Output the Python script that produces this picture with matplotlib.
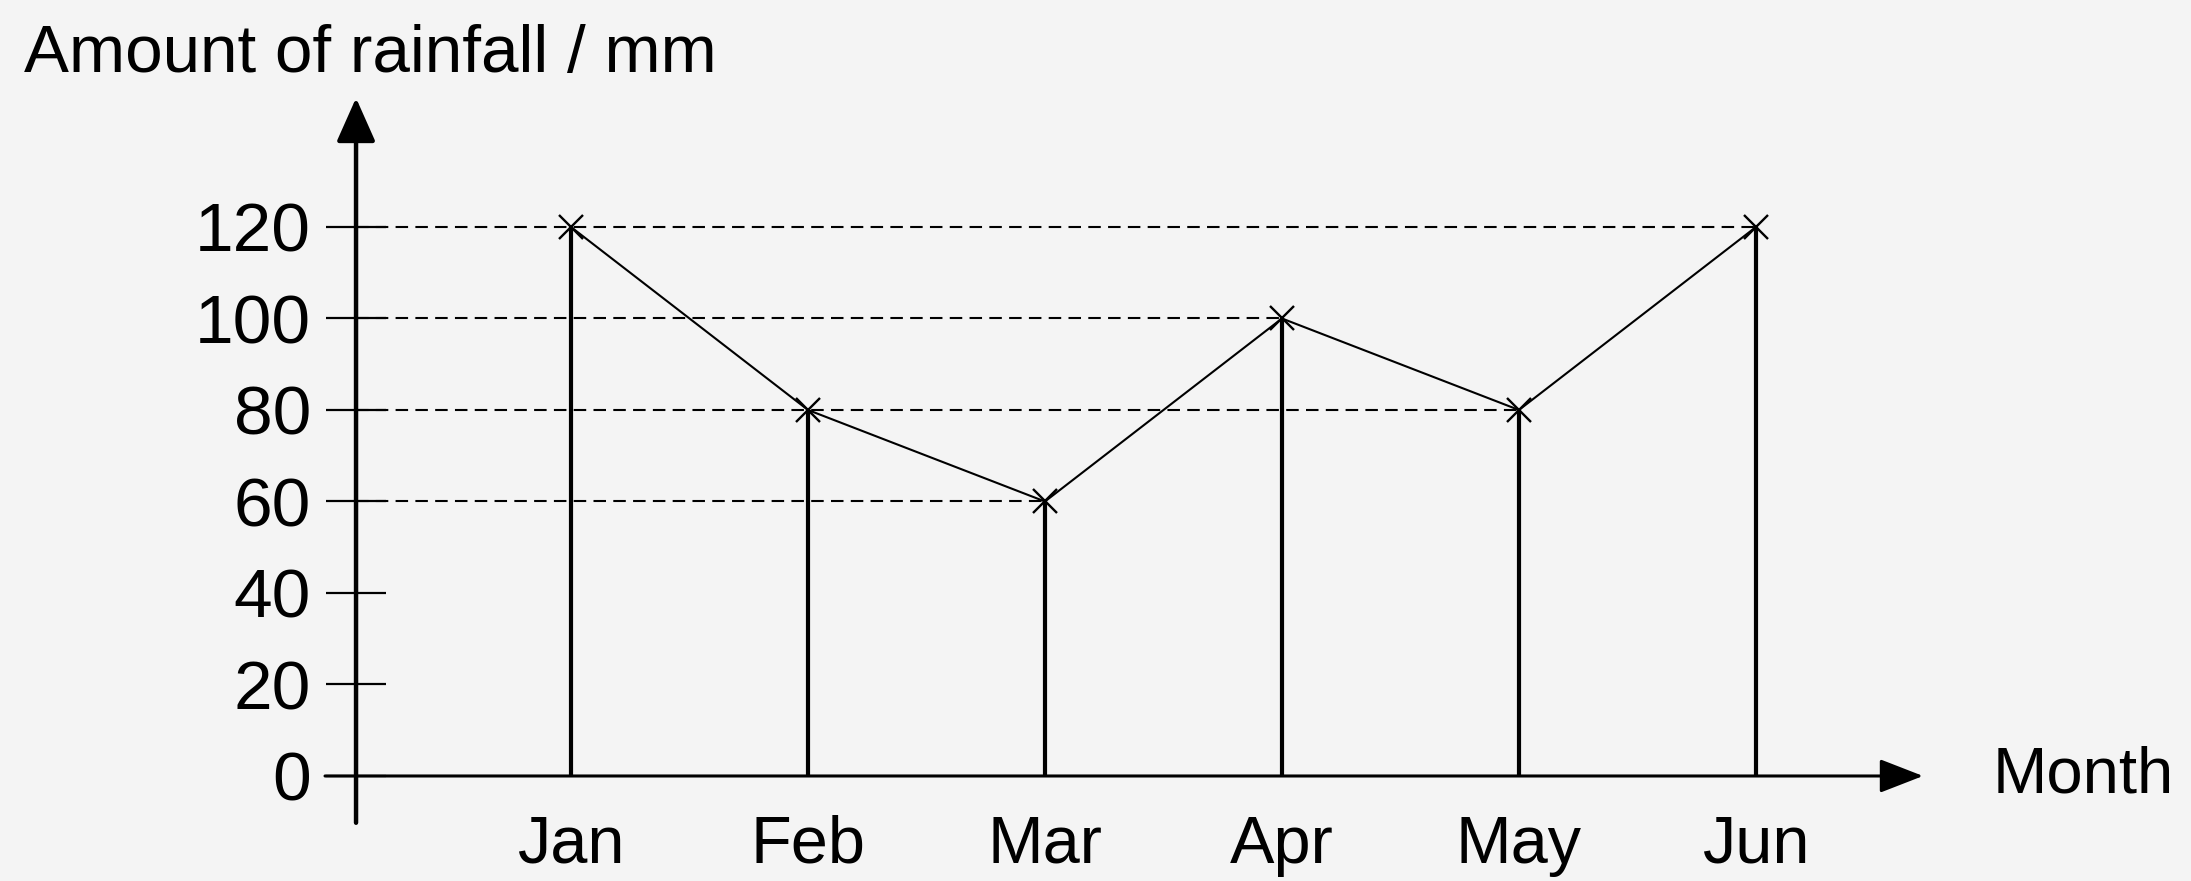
import matplotlib.pyplot as plt

# data
months = ['Jan', 'Feb', 'Mar', 'Apr', 'May', 'Jun']
rainfall = [120, 80, 60, 100, 80, 120]
y_ticks = [0, 20, 40, 60, 80, 100, 120]

plt.rcParams['font.family'] = ['Liberation Sans', 'DejaVu Sans']

bg = '#f4f4f4'
fig = plt.figure(figsize=(21.91, 8.81), dpi=100, facecolor=bg)
ax = fig.add_axes([0.1625, 0.1192, 0.7152, 0.7696], facecolor=bg)

x = list(range(len(months)))
ax.set_xlim(-0.907, 5.705)
ax.set_ylim(0, 148.2)

#Dashed guide lines from the axis to the furthest point with that value
for v in sorted(set(rainfall)):
    xmax = max(i for i, r in zip(x, rainfall) if r == v)
    ax.hlines(v, -0.907, xmax, colors='black', linestyles=(0, (6, 3.5)), lw=1.5)

#Vertical lines from zero to each value
ax.vlines(x, 0, rainfall, colors='black', lw=3.0)

#Line joining the points, with crosses
ax.plot(x, rainfall, color='black', lw=1.5, marker='x', markersize=17, mew=1.7)

#Axes with arrows
for s in ax.spines.values():
    s.set_visible(False)
ax.annotate('', xy=(0, 1), xytext=(0, -0.069), xycoords='axes fraction',
            arrowprops=dict(arrowstyle='-|>,head_length=0.9,head_width=0.4',
                            lw=3.2, color='black', shrinkA=0, shrinkB=0,
                            mutation_scale=30))
ax.annotate('', xy=(1, 0), xytext=(-0.0198, 0), xycoords='axes fraction',
            arrowprops=dict(arrowstyle='-|>,head_length=0.9,head_width=0.35',
                            lw=2.2, color='black', shrinkA=0, shrinkB=0,
                            mutation_scale=30))

ax.set_yticks(y_ticks)
ax.set_yticklabels([str(t) for t in y_ticks], fontsize=50)
ax.tick_params(axis='y', direction='inout', length=43, width=1.6, pad=11)
ax.set_xticks(x)
ax.set_xticklabels(months, fontsize=48)
ax.tick_params(axis='x', length=0, pad=28)

ax.text(1.0447, 0, 'Month', transform=ax.transAxes, fontsize=47,
        ha='left', va='center')
fig.text(0.011, 0.918, 'Amount of rainfall / mm', fontsize=48.5,
         ha='left', va='baseline')

fig.savefig('out.png', dpi=100, facecolor=bg)
